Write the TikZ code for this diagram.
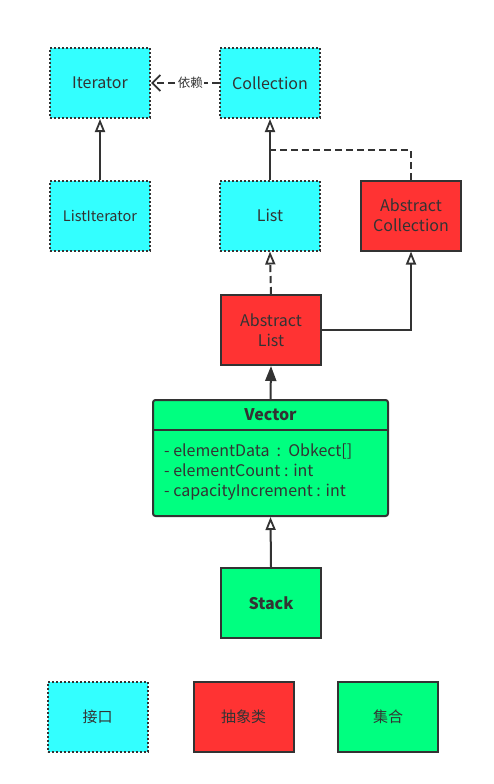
\documentclass[tikz,border=0pt]{standalone}
\usepackage{fontspec}
\setmainfont{Noto Sans CJK SC}
\usetikzlibrary{arrows.meta}
\definecolor{ifc}{HTML}{33FFFF}
\definecolor{abc}{HTML}{FF3333}
\definecolor{clc}{HTML}{00FF80}
\definecolor{ink}{HTML}{333333}
\tikzset{
  base/.style={minimum width=100pt, minimum height=70pt, inner sep=0pt, text=ink, font=\fontsize{16}{20}\selectfont, align=center},
  iface/.style={base, fill=ifc, draw=ink, line width=2pt, dash pattern=on 2pt off 2pt},
  absc/.style={base, fill=abc, draw=ink, line width=2pt},
  coll/.style={base, fill=clc, draw=ink, line width=2pt},
  legend/.style={font=\fontsize{15}{18}\selectfont},
  conn/.style={draw=ink, line width=2pt},
  opentri/.style={-{Triangle[open, length=13pt, width=10pt, line width=1.8pt]}},
  filltri/.style={-{Triangle[length=15pt, width=11pt]}},
  dep/.style={conn, dashed, dash pattern=on 7pt off 4pt, -{Straight Barb[length=8pt, width=16pt, line width=1.8pt]}},
}
\begin{document}
\begin{tikzpicture}[x=1pt, y=-1pt]
\useasboundingbox (0,0) rectangle (493,784);
\fill[white] (0,0) rectangle (493,784);
% interfaces
\node[iface] (it) at (100,83) {Iterator};
\node[iface, font=\fontsize{14.5}{17}\selectfont] (li) at (100,215.5) {ListIterator};
\node[iface] (co) at (270,83) {Collection};
\node[iface] (ls) at (270,215.5) {List};
% abstract
\node[absc] (ac) at (411,215.5) {Abstract\\Collection};
\node[absc] (al) at (271,330) {Abstract\\List};
% vector
\node[coll, minimum width=235pt, minimum height=116pt, rounded corners=2.5pt] (ve) at (270.5,458) {};
\draw[conn] (153,430) coordinate (vl) -- (388,430) coordinate (vr);
\node[text=ink, font=\fontsize{16}{19}\selectfont\bfseries] (vt) at (270.5,414.5) {Vector};
\node[text=ink, font=\fontsize{16}{20}\selectfont, align=left, anchor=west, inner sep=0pt] (va) at (164,472) {- elementData~~:~~Obkect[]\\- elementCount : int\\- capacityIncrement : int};
% stack
\node[coll, font=\fontsize{16}{19}\selectfont\bfseries] (st) at (271,603) {Stack};
% legend
\node[iface, legend] (lg1) at (97.5,717) {接口};
\node[absc, legend] (lg2) at (243.5,717) {抽象类};
\node[coll, legend] (lg3) at (388,717) {集合};
% connectors
\draw[dep] (co.west) -- node[fill=white, inner sep=1pt, text=ink, font=\fontsize{12.5}{15}\selectfont, pos=0.42] (dl) {依赖} (it.east);
\draw[conn, opentri] (li.north) -- (it.south);
\draw[conn, opentri] (ls.north) -- (co.south);
\coordinate (j) at (271,150);
\draw[conn, dashed, dash pattern=on 7pt off 4pt] (ac.north) |- (j);
\draw[conn, dashed, dash pattern=on 7pt off 4pt, opentri] (al.north) -- (ls.south);
\draw[draw=ink, line width=1.5pt, opentri] (al.east) -| (ac.south);
\draw[conn, filltri] (ve.north) -- (al.south);
\draw[conn, opentri] (st.north) -- (ve.south);
\end{tikzpicture}
\end{document}
